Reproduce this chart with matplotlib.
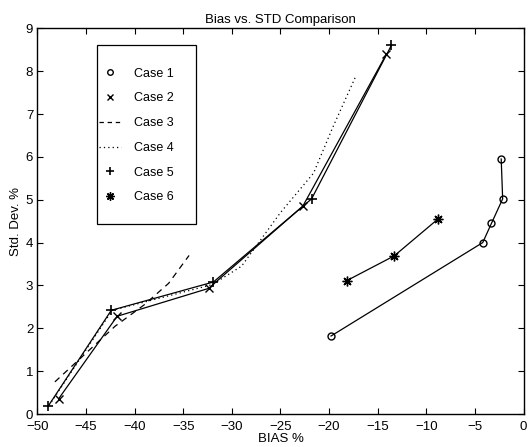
import numpy as np
import matplotlib.pyplot as plt
from matplotlib.lines import Line2D
from matplotlib.patches import Rectangle

plt.rcParams['font.family'] = ['Liberation Sans', 'DejaVu Sans']

# dane
case1_x = [-19.8, -4.2, -3.3, -2.15, -2.3]
case1_y = [1.82, 4.0, 4.45, 5.02, 5.95]

case2_x = [-47.8, -41.8, -32.4, -22.7, -14.1]
case2_y = [0.36, 2.28, 2.93, 4.85, 8.4]

case3_x = [-48.2, -42.0, -39.0, -36.5, -34.4]
case3_y = [0.75, 2.05, 2.55, 3.05, 3.7]

case4_x = [-48.8, -42.3, -32.0, -29.0, -25.0, -21.6, -19.6, -17.3]
case4_y = [0.2, 2.42, 3.02, 3.45, 4.7, 5.62, 6.7, 7.86]

case5_x = [-48.9, -42.4, -31.9, -21.8, -13.6]
case5_y = [0.18, 2.42, 3.08, 5.02, 8.6]

case6_x = [-18.2, -13.3, -8.8]
case6_y = [3.11, 3.69, 4.55]

labels = ['Case 1', 'Case 2', 'Case 3', 'Case 4', 'Case 5', 'Case 6']

fig = plt.figure(figsize=(5.31, 4.47), dpi=100)
ax = fig.add_axes([0.0704, 0.0738, 0.9156, 0.8629])

lw = 0.9
star = (8, 2, 0)  # gwiazdka jak w MATLABie
#linie ciągłe z markerami
ax.plot(case1_x, case1_y, color='black', lw=lw, marker='o', ms=5, mfc='none', mew=1)
ax.plot(case2_x, case2_y, color='black', lw=lw, marker='x', ms=6, mew=1)
ax.plot(case5_x, case5_y, color='black', lw=lw, marker='+', ms=7, mew=1.2)
ax.plot(case6_x, case6_y, color='black', lw=lw, marker=star, ms=7, mew=1.0)
#przerywana i kropkowana
ax.plot(case3_x, case3_y, color='black', lw=lw, linestyle=(0, (5, 4)))
ax.plot(case4_x, case4_y, color='black', lw=lw, linestyle=(0, (1, 2.5)))

ax.set_xlim(-50, 0)
ax.set_ylim(0, 9)
ax.set_xticks(np.arange(-50, 1, 5))
ax.set_yticks(np.arange(0, 10, 1))
ax.tick_params(direction='in', top=True, right=True, labelsize=9.5, length=4, width=0.8)
ax.tick_params(axis='x', pad=5)
ax.tick_params(axis='y', pad=3)
for s in ax.spines.values():
    s.set_linewidth(1.0)

ax.set_title('Bias vs. STD Comparison', fontsize=9.5, pad=4)
ax.set_xlabel('BIAS %', fontsize=9.5, labelpad=0)
ax.set_ylabel('Std. Dev. %', fontsize=9.5, labelpad=3)

#legenda - ramka rysowana osobno
handles = [
    Line2D([], [], color='black', linestyle='none', marker='o', ms=4, mfc='none'),
    Line2D([], [], color='black', linestyle='none', marker='x', ms=5),
    Line2D([], [], color='black', lw=lw, linestyle=(0, (3.5, 3))),
    Line2D([], [], color='black', lw=lw, linestyle=(0, (1, 2.5))),
    Line2D([], [], color='black', linestyle='none', marker='+', ms=6, mew=1.2),
    Line2D([], [], color='black', linestyle='none', marker=star, ms=6, mew=1.0),
]
box = Rectangle((0.123, 0.493), 0.203, 0.464, transform=ax.transAxes,
                facecolor='white', edgecolor='black', lw=0.9, zorder=4)
ax.add_patch(box)
leg = ax.legend(handles, labels, loc='upper left', bbox_to_anchor=(0.126, 0.898),
                fontsize=9, frameon=False, labelspacing=1.02, handlelength=1.8,
                handletextpad=1.0, borderpad=0, borderaxespad=0)
leg.set_zorder(5)

plt.savefig('out.png', dpi=100)
